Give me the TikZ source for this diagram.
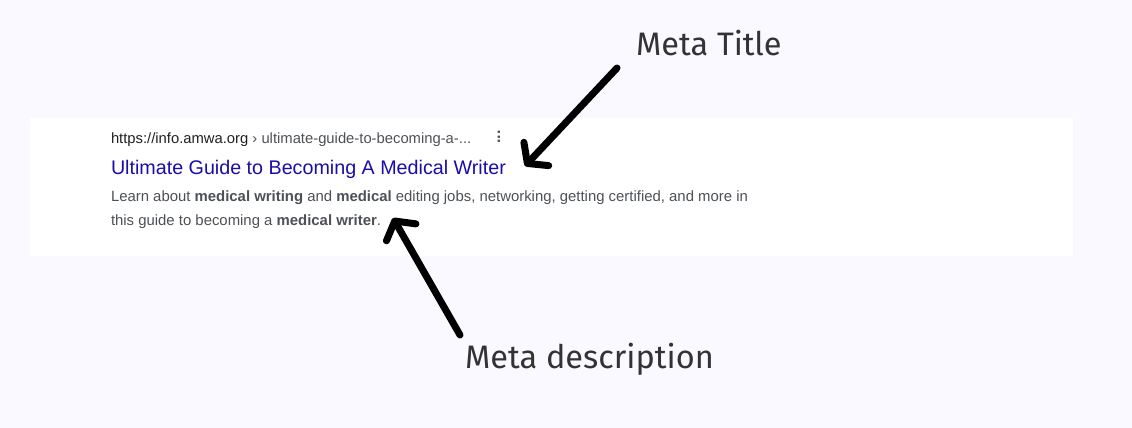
\documentclass[tikz,border=0pt]{standalone}
\usepackage{fontspec}
\setmainfont{Liberation Sans}
\newfontfamily\labelfont{Fira Sans}
\usetikzlibrary{arrows.meta}
\definecolor{bg}{HTML}{F9F9FF}
\definecolor{serpblue}{HTML}{1A0DAB}
\definecolor{serpgray}{HTML}{4D5156}
\definecolor{serpdark}{HTML}{202124}
\definecolor{labelcol}{HTML}{333333}
\tikzset{
  txt/.style={anchor=base west, inner sep=0pt, outer sep=0pt},
  lbl/.style={anchor=base west, inner sep=0pt, text=labelcol, font=\labelfont\fontsize{32.5}{36}\selectfont},
  pointer/.style={line width=7pt, line cap=round, line join=round,
    -{Straight Barb[length=13pt, width=34pt, line cap=round, line join=round]}},
}
\begin{document}
\begin{tikzpicture}[x=1pt, y=-1pt]
  \fill[bg] (0,0) rectangle (1132,428);
  \useasboundingbox (0,0) rectangle (1132,428);
  \fill[white] (30,118) rectangle (1073,256);
  % snippet
  \node[txt, font=\fontsize{14.8}{16}\selectfont] (url) at (111,143)
    {\textcolor{serpdark}{https://info.amwa.org}\ \textcolor{serpgray}{›\ ultimate-guide-to-becoming-a-...}};
  \node[anchor=center, inner sep=0pt, text=serpgray, font=\bfseries\fontsize{16}{16}\selectfont] (dots) at (499,137) {\rotatebox{90}{...}};
  \node[txt, text=serpblue, font=\fontsize{19.7}{24}\selectfont] (title) at (111,174)
    {Ultimate Guide to Becoming A Medical Writer};
  \node[txt, text=serpgray, font=\fontsize{14.9}{17}\selectfont] (desc1) at (111,201)
    {Learn about \textbf{medical writing} and \textbf{medical} editing jobs, networking, getting certified, and more in};
  \node[txt, text=serpgray, font=\fontsize{14.9}{17}\selectfont] (desc2) at (111,225)
    {this guide to becoming a \textbf{medical writer}.};
  % labels
  \node[lbl] (mt) at (636,56) {Meta Title};
  \node[lbl] (md) at (465,368) {Meta description};
  \coordinate (mttail) at (617,68);
  \coordinate (mttip) at (525,166);
  \coordinate (mdtail) at (460,335);
  \coordinate (mdtip) at (393,218);
  \draw[pointer] (mttail) -- (mttip);
  \draw[pointer] (mdtail) -- (mdtip);
\end{tikzpicture}
\end{document}
